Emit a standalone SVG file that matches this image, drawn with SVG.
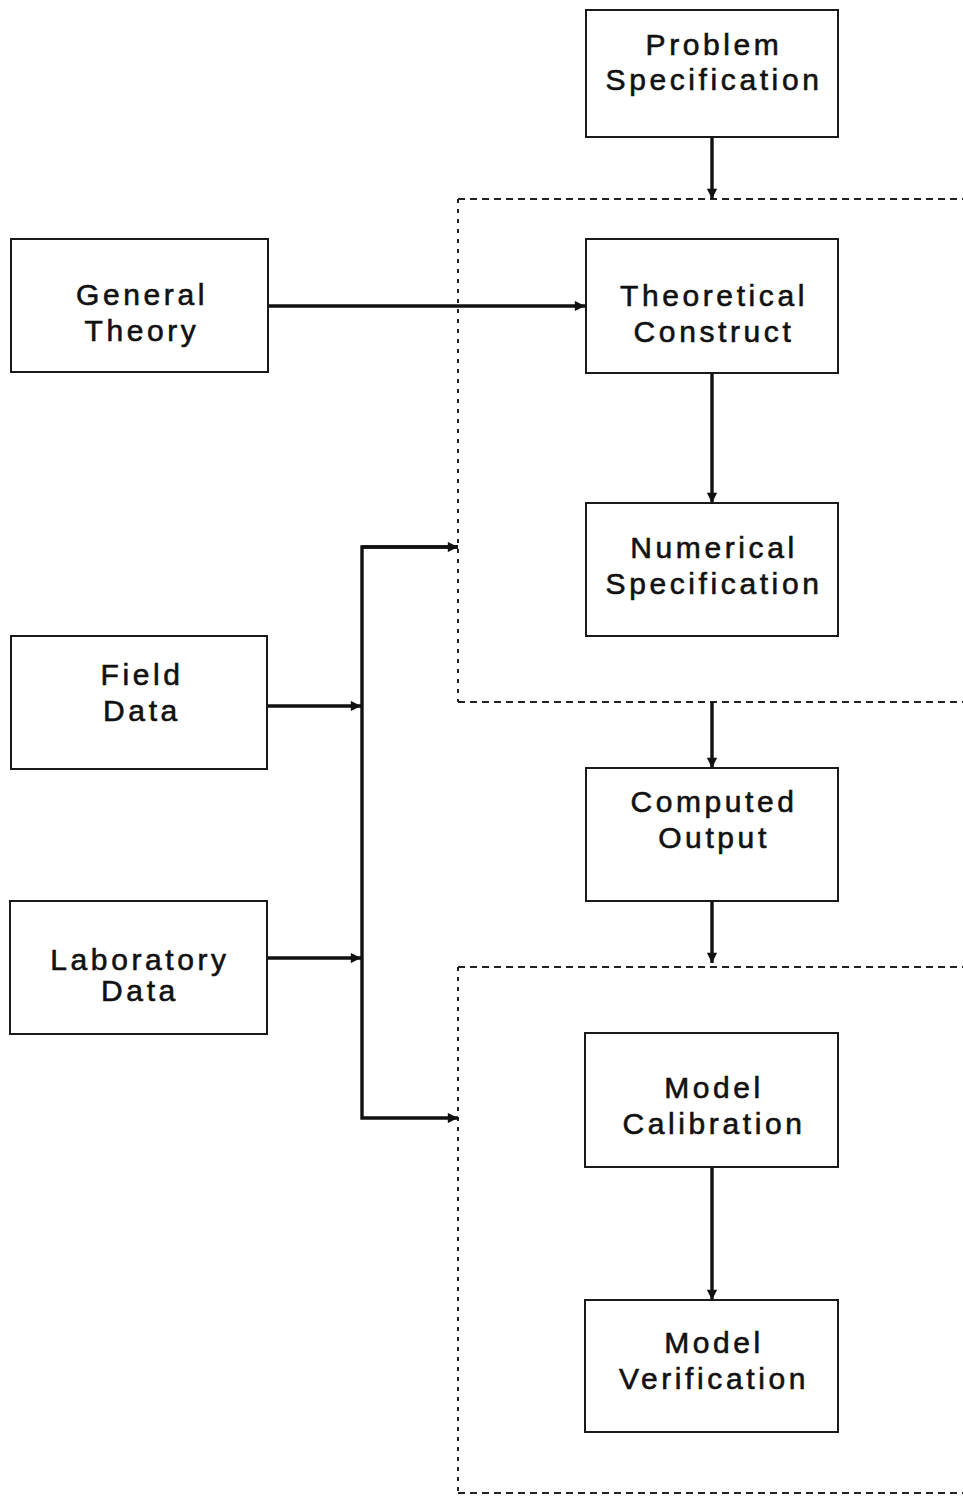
<svg xmlns="http://www.w3.org/2000/svg" width="963" height="1497" viewBox="0 0 963 1497">
<style>
.box{fill:none;stroke:#1a1a1a;stroke-width:2}
.lbl{font-family:"Liberation Sans",Arial,sans-serif;font-size:30px;letter-spacing:3.6px;fill:#111;stroke:#111;stroke-width:0.6;text-anchor:middle}
.conn{stroke:#111;stroke-width:3.4;fill:none}
.dh{stroke:#222;stroke-width:2;fill:none;stroke-dasharray:7 5}
.dv{stroke:#222;stroke-width:2;fill:none;stroke-dasharray:4 6}
</style>
<defs>
<marker id="ah" viewBox="0 0 10 10" refX="10" refY="5" markerWidth="3.6" markerHeight="3" markerUnits="strokeWidth" orient="auto">
<path d="M0,0 L10,5 L0,10 z" fill="#111"/>
</marker>
</defs>
<rect width="963" height="1497" fill="#ffffff"/>

<g id="regions">
<line class="dh" x1="458" y1="199" x2="963" y2="199"/>
<line class="dv" x1="458" y1="199" x2="458" y2="702"/>
<line class="dh" x1="458" y1="702" x2="963" y2="702"/>
<line class="dh" x1="458" y1="967" x2="963" y2="967"/>
<line class="dv" x1="458" y1="967" x2="458" y2="1493"/>
<line class="dh" x1="458" y1="1493" x2="963" y2="1493"/>
</g>

<g id="connectors">
<line class="conn" x1="712" y1="137" x2="712" y2="199" marker-end="url(#ah)"/>
<line class="conn" x1="268" y1="306" x2="585" y2="306" marker-end="url(#ah)"/>
<line class="conn" x1="712" y1="373" x2="712" y2="503" marker-end="url(#ah)"/>
<line class="conn" x1="712" y1="702" x2="712" y2="768" marker-end="url(#ah)"/>
<line class="conn" x1="712" y1="901" x2="712" y2="963" marker-end="url(#ah)"/>
<line class="conn" x1="712" y1="1167" x2="712" y2="1300" marker-end="url(#ah)"/>
<line class="conn" x1="268" y1="706" x2="361" y2="706" marker-end="url(#ah)"/>
<line class="conn" x1="268" y1="958" x2="361" y2="958" marker-end="url(#ah)"/>
<path class="conn" d="M458,547 H362 V1118 H458" marker-end="url(#ah)"/>
<line class="conn" x1="362" y1="547" x2="458" y2="547" marker-end="url(#ah)"/>
</g>

<g id="problem-specification">
<rect class="box" x="586" y="10" width="252" height="127"/>
<text class="lbl" x="714" y="55">Problem</text>
<text class="lbl" x="714" y="90">Specification</text>
</g>
<g id="theoretical-construct">
<rect class="box" x="586" y="239" width="252" height="134"/>
<text class="lbl" x="714" y="306">Theoretical</text>
<text class="lbl" x="714" y="342">Construct</text>
</g>
<g id="numerical-specification">
<rect class="box" x="586" y="503" width="252" height="133"/>
<text class="lbl" x="714" y="558">Numerical</text>
<text class="lbl" x="714" y="594">Specification</text>
</g>
<g id="computed-output">
<rect class="box" x="586" y="768" width="252" height="133"/>
<text class="lbl" x="714" y="812">Computed</text>
<text class="lbl" x="714" y="848">Output</text>
</g>
<g id="model-calibration">
<rect class="box" x="585" y="1033" width="253" height="134"/>
<text class="lbl" x="714" y="1098">Model</text>
<text class="lbl" x="714" y="1134">Calibration</text>
</g>
<g id="model-verification">
<rect class="box" x="585" y="1300" width="253" height="132"/>
<text class="lbl" x="714" y="1353">Model</text>
<text class="lbl" x="714" y="1389">Verification</text>
</g>
<g id="general-theory">
<rect class="box" x="11" y="239" width="257" height="133"/>
<text class="lbl" x="142" y="305">General</text>
<text class="lbl" x="142" y="341">Theory</text>
</g>
<g id="field-data">
<rect class="box" x="11" y="636" width="256" height="133"/>
<text class="lbl" x="142" y="685">Field</text>
<text class="lbl" x="142" y="721">Data</text>
</g>
<g id="laboratory-data">
<rect class="box" x="10" y="901" width="257" height="133"/>
<text class="lbl" x="140" y="970">Laboratory</text>
<text class="lbl" x="140" y="1001">Data</text>
</g>
</svg>
